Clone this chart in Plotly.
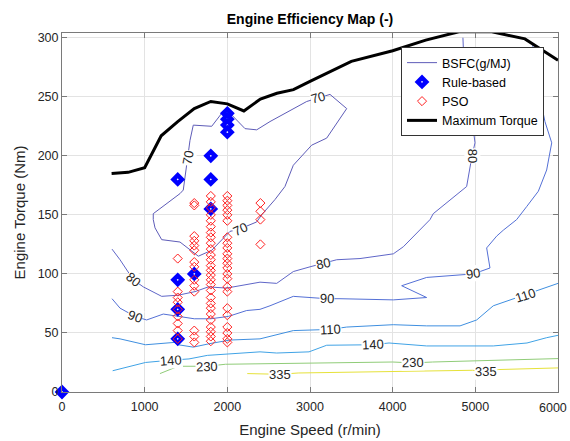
import plotly.graph_objects as go

# ---- Maximum torque curve ----
speed_max = [600, 800, 1000, 1200, 1400, 1600, 1800, 2000, 2200, 2400, 2600, 2800,
             3000, 3200, 3500, 4000, 4400, 4800, 5200, 5600, 5800, 6000]
torque_max = [185, 186, 190, 217, 229, 240, 246, 244, 238, 248, 253, 256,
              263, 270, 280, 289, 298, 305, 305, 299, 290, 281]

# ---- Rule-based operating points ----
rb_speed = [0, 1400, 1400, 1400, 1400, 1600, 1800, 1800, 1800, 2000, 2000, 2000, 2000]
rb_torque = [0, 180, 95, 70, 45, 100, 200, 180, 155, 236, 231, 226, 220]

# ---- PSO operating points (torque per engine speed) ----
pso_1400 = [113, 85, 80, 76, 70, 64, 58, 52, 45]
pso_1600 = [160, 158, 132, 128, 124, 120, 110, 106, 95, 90, 85, 52, 47, 42]
pso_1800 = [166, 161, 156, 150, 145, 140, 135, 131, 126, 121, 116, 112, 107, 103,
            99, 95, 91, 86, 80, 75, 71, 66, 61, 55, 51, 47, 43]
pso_2000 = [166, 162, 158, 154, 150, 145, 131, 126, 122, 117, 113, 109, 105, 100,
            96, 89, 85, 71, 65, 55, 50, 45, 42]
pso_2400 = [160, 153, 146, 125]

# ---- Axis ticks ----
x_ticks = [0, 1000, 2000, 3000, 4000, 5000, 6000]
y_ticks = [0, 50, 100, 150, 200, 250, 300]

# ---- BSFC iso-lines (g/MJ) ----
c70_speed = [1104, 1427, 1467, 1520, 1548, 1588, 1811, 1932, 1992, 2214, 2355, 2516,
             2798, 2960, 3101, 3242, 3444, 3202, 3020, 2798, 2697, 2577, 2415, 2355,
             2150, 2032, 1811, 1649, 1427, 1206, 1125, 1104, 1104]
c70_torque = [151, 168, 171, 198, 213, 226, 225, 236, 239, 223, 222, 229,
              240, 246, 249, 252, 240, 215, 209, 192, 174, 163, 150, 144,
              138, 136, 120, 115, 127, 129, 139, 146, 151]

c80_speed = [605, 702, 863, 984, 1206, 1407, 1609, 1770, 1992, 2234, 2395, 2597,
             2798, 3000, 3161, 3323, 3605, 4008, 4129, 4331, 4452, 4491, 4733, 4895,
             4960, 4996, 4976, 4915, 4870, 4850]
c80_torque = [121, 112, 95, 89, 81, 82, 85, 89, 88, 91, 93, 92,
              102, 106, 109, 112, 113, 117, 123, 137, 146, 151, 165, 174,
              200, 211, 222, 232, 265, 300]

c90_speed = [605, 702, 883, 1024, 1225, 1400, 1600, 1800, 2012, 2234, 2395, 2516,
             2798, 3202, 3363, 4008, 4411, 4109, 4411, 4976, 5177, 5137, 5258, 5338,
             5500, 5621, 5762, 5863, 5924, 5842, 5750, 5694]
c90_torque = [79, 71, 64, 61, 66, 64, 62, 62, 64, 69, 70, 73,
              81, 79, 79, 78, 80, 90, 97, 100, 105, 122, 132, 137,
              146, 157, 170, 188, 211, 229, 260, 294]

c110_speed = [605, 702, 1010, 1361, 1407, 1588, 1790, 2032, 2395, 2516, 2798, 3242,
              3444, 4008, 4411, 4815, 5016, 5217, 5419, 5601, 5822, 6000]
c110_torque = [46, 45, 40, 42, 40, 38, 41, 44, 45, 47, 52, 53,
               55, 57, 56, 56, 61, 73, 78, 82, 88, 92]

c140_speed = [613, 1010, 1319, 1536, 1758, 2153, 2395, 2597, 2988, 3202, 3758, 3956,
              4306, 4411, 5217, 5625, 5863, 6000]
c140_torque = [18, 25, 27, 28, 31, 33, 34, 33, 34, 39.6, 40, 41.5,
               39.6, 39, 39, 41.5, 46, 48]

c230_speed = [1185, 1405, 1758, 1977, 4000, 4242, 4484, 6000]
c230_torque = [15.6, 21.8, 21.8, 23.5, 25.4, 24.6, 25.4, 28.3]

c335_speed = [2241, 2637, 2857, 4968, 5123, 5277, 6000]
c335_torque = [15.6, 15, 16.1, 18.4, 17, 19, 20.4]

bsfc_levels = [70, 80, 90, 110, 140, 230, 335]
bsfc_lines = {
    70: (c70_speed, c70_torque),
    80: (c80_speed, c80_torque),
    90: (c90_speed, c90_torque),
    110: (c110_speed, c110_torque),
    140: (c140_speed, c140_torque),
    230: (c230_speed, c230_torque),
    335: (c335_speed, c335_torque),
}

# inline level labels: (level, speed, torque, text angle)
contour_labels = [
    (70, 1520, 198, -80), (70, 3101, 249, -16), (70, 2150, 138, -25),
    (80, 863, 95, 40), (80, 3161, 109, -12), (80, 4960, 200, 90),
    (90, 883, 64, 20), (90, 3202, 79, 2), (90, 4976, 100, -8),
    (110, 3242, 53, -3), (110, 5601, 82, -18),
    (140, 1319, 27, -4), (140, 3758, 40, -3),
    (230, 1758, 21.8, -2), (230, 4242, 24.6, -1),
    (335, 2637, 15, 0), (335, 5123, 17, -1),
]

level_colors = {
    70: "#5e5cb8", 80: "#5f66c8", 90: "#5470d6", 110: "#3f8fe0",
    140: "#40a3e6", 230: "#90cc78", 335: "#e6e23a",
}

FONT = "Liberation Sans, Arial, Helvetica, sans-serif"
TXT = "#262626"

fig = go.Figure()

for i, lvl in enumerate(bsfc_levels):
    xs, ys = bsfc_lines[lvl]
    fig.add_trace(go.Scatter(
        x=xs, y=ys, mode="lines",
        line=dict(color=level_colors[lvl], width=1),
        name="BSFC(g/MJ)", legendgroup="bsfc",
        showlegend=(i == 0), hoverinfo="skip",
    ))

fig.add_trace(go.Scatter(
    x=rb_speed, y=rb_torque, mode="markers", name="Rule-based",
    marker=dict(symbol="diamond", size=6.5, color="white",
                line=dict(color="#0000ff", width=4.5)),
    cliponaxis=False,
))

pso_speed = ([1400] * len(pso_1400) + [1600] * len(pso_1600) + [1800] * len(pso_1800)
             + [2000] * len(pso_2000) + [2400] * len(pso_2400))
pso_torque = pso_1400 + pso_1600 + pso_1800 + pso_2000 + pso_2400
fig.add_trace(go.Scatter(
    x=pso_speed, y=pso_torque, mode="markers", name="PSO",
    marker=dict(symbol="diamond-open", size=7, color="#ff2020",
                line=dict(color="#ff2020", width=1)),
))

fig.add_trace(go.Scatter(
    x=speed_max, y=torque_max, mode="lines", name="Maximum Torque",
    line=dict(color="black", width=3),
))

for lvl, sx, ty, ang in contour_labels:
    fig.add_annotation(
        x=sx, y=ty, xref="x", yref="y", text=str(lvl), showarrow=False,
        textangle=ang, font=dict(family=FONT, size=13, color=TXT),
        bgcolor="white", borderpad=0,
    )

# the last x tick label is right-aligned to the page edge so it stays whole
x_ticktext = [str(v) for v in x_ticks[:-1]] + [""]
fig.add_annotation(
    x=1.0225, y=0, xref="paper", yref="paper", xanchor="right", yanchor="middle",
    yshift=-15.5, text=str(x_ticks[-1]), showarrow=False,
    font=dict(family=FONT, size=12.5, color=TXT),
)

axis_common = dict(
    showgrid=True, gridcolor="#e3e3e3", gridwidth=1,
    showline=True, linecolor="#7a7a7a", linewidth=1, mirror="ticks",
    ticks="inside", ticklen=5, tickcolor="#7a7a7a",
    tickfont=dict(family=FONT, size=12.5, color=TXT),
    ticklabeloverflow="allow", automargin=False,
    zeroline=False,
)

fig.update_layout(
    width=570, height=441,
    margin=dict(l=62, r=12, t=33, b=49),
    paper_bgcolor="white", plot_bgcolor="white",
    title=dict(text="<b>Engine Efficiency Map (-)</b>", x=0.5, xref="paper",
               y=1 - 19 / 441, yref="container", yanchor="middle",
               font=dict(family=FONT, size=14, color="black")),
    xaxis=dict(range=[0, 6000], tickmode="array", tickvals=x_ticks, ticktext=x_ticktext,
               ticklabelstandoff=3,
               title=dict(text="Engine Speed (r/min)", standoff=11,
                          font=dict(family=FONT, size=15, color=TXT)),
               **axis_common),
    yaxis=dict(range=[0, 304], tickvals=y_ticks,
               title=dict(text="Engine Torque (Nm)", standoff=8,
                          font=dict(family=FONT, size=15, color=TXT)),
               **axis_common),
    legend=dict(x=0.6835, y=0.961, xanchor="left", yanchor="top",
                bgcolor="white", bordercolor="#333333", borderwidth=1,
                font=dict(family=FONT, size=12.5, color="black"),
                tracegroupgap=0),
    showlegend=True,
)

fig.write_html("out.html")
